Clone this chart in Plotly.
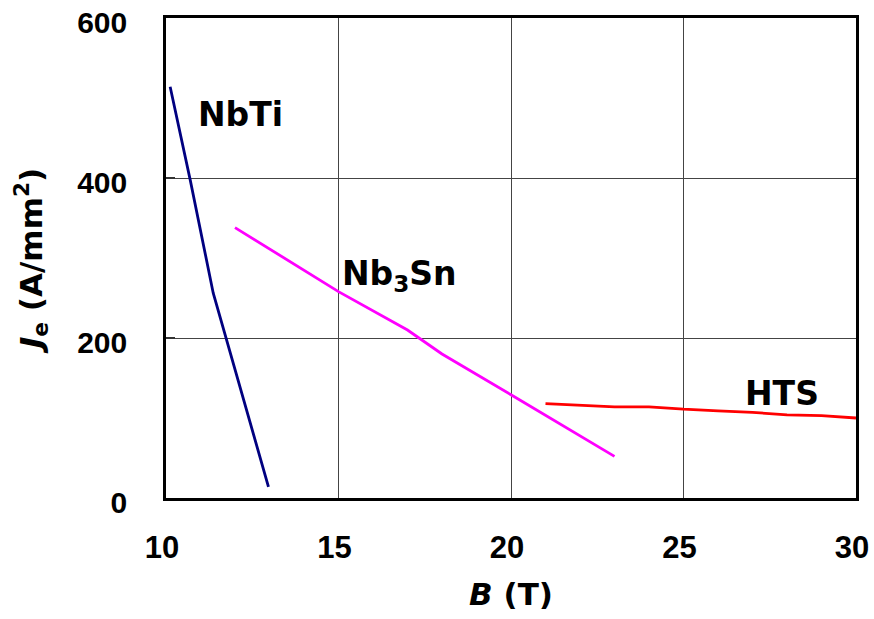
import plotly.graph_objects as go

nbti_b = [10.12, 10.7, 11.37, 11.76, 12.97]
nbti_j = [514, 398, 256, 197, 14]
nb3sn_b = [12.0, 15.0, 17.0, 18.0, 20.0, 23.0]
nb3sn_j = [338, 258, 210, 180, 129, 52]
hts_b = [21, 22, 23, 24, 25, 26, 27, 28, 29, 30]
hts_j = [118, 116, 114, 114, 111, 109, 107, 104, 103, 100]

x_ticks = [10, 15, 20, 25, 30]
y_ticks = [0, 200, 400, 600]

fig = go.Figure()
fig.add_trace(go.Scatter(x=nbti_b, y=nbti_j, mode="lines", line=dict(color="#000080", width=2.8), name="NbTi"))
fig.add_trace(go.Scatter(x=nb3sn_b, y=nb3sn_j, mode="lines", line=dict(color="#FF00FF", width=2.8), name="Nb3Sn"))
fig.add_trace(go.Scatter(x=hts_b, y=hts_j, mode="lines", line=dict(color="#FF0000", width=2.8), name="HTS"))

ann_font = dict(family="DejaVu Sans, sans-serif", size=33, color="black")
fig.add_annotation(x=12.17, y=479, text="<b>NbTi</b>", showarrow=False, font=ann_font)
fig.add_annotation(x=16.78, y=278, text="<b>Nb<sub>3</sub>Sn</b>", showarrow=False, font=ann_font)
fig.add_annotation(x=27.85, y=131, text="<b>HTS</b>", showarrow=False, font=ann_font)

fig.update_layout(
    width=874, height=619,
    margin=dict(l=166, r=18, t=18, b=121),
    plot_bgcolor="white", paper_bgcolor="white",
    showlegend=False,
    font=dict(family="Liberation Sans, Arial, sans-serif", color="black"),
)
fig.update_xaxes(
    range=[10, 30], tickvals=x_ticks, ticktext=[f"<b>{v}</b>" for v in x_ticks],
    tickfont=dict(family="Liberation Sans, Arial", size=31),
    showgrid=True, gridcolor="#444444", gridwidth=1,
    showline=True, linecolor="black", linewidth=2.5, mirror=True,
    ticks="", ticklabelstandoff=20, ticklabelshift=-4, automargin=False,
    title=dict(text="<b><i>B</i> (T)</b>", font=dict(family="DejaVu Sans", size=31), standoff=20),
    zeroline=False,
)
fig.update_yaxes(
    range=[0, 600], tickvals=y_ticks, ticktext=[f"<b>{v}</b>" for v in y_ticks],
    tickfont=dict(family="Liberation Sans, Arial", size=30),
    showgrid=True, gridcolor="#444444", gridwidth=1,
    showline=True, linecolor="black", linewidth=2.5, mirror=True,
    ticks="inside", ticklen=9, tickcolor="#333333", tickwidth=2,
    ticklabelstandoff=30, ticklabelshift=4,
    automargin=False,
    title=dict(text="<b><i>J</i><sub>e</sub> (A/mm<sup>2</sup>)</b>", font=dict(family="DejaVu Sans", size=31), standoff=26),
    zeroline=False,
)

fig.write_html("out.html")
